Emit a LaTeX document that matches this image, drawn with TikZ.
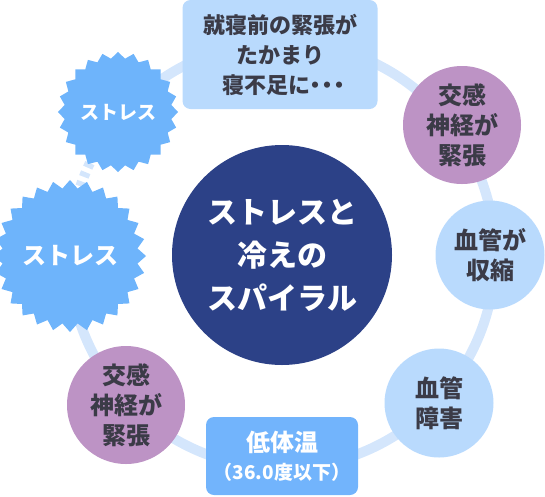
\documentclass[tikz,border=0pt]{standalone}
\usepackage{fontspec}
\newfontfamily\jpfont{Noto Sans CJK JP}
\usetikzlibrary{shapes.geometric}

\definecolor{ringc}{HTML}{D4E6FC}
\definecolor{boxc}{HTML}{B9DAFD}
\definecolor{purp}{HTML}{BD93C5}
\definecolor{teic}{HTML}{72B4FC}
\definecolor{starc}{HTML}{6EB4FB}
\definecolor{navy}{HTML}{2C4187}
\definecolor{txt}{HTML}{3B3B47}

\begin{document}
\begin{tikzpicture}[x=1pt,y=-1pt,
    ring/.style={draw=ringc, line width=10pt},
    step box/.style={fill=boxc, rounded corners=8pt, inner sep=0pt, text=txt, align=center,
        font=\jpfont\bfseries\fontsize{22}{30}\selectfont},
    purple circ/.style={circle, fill=purp, minimum size=118pt, inner sep=0pt, text=txt, align=center,
        font=\jpfont\bfseries\fontsize{24}{30}\selectfont},
    blue circ/.style={circle, fill=boxc, minimum size=109pt, inner sep=0pt, text=txt, align=center,
        font=\jpfont\bfseries\fontsize{24}{30}\selectfont},
    stress/.style={star, star point ratio=1.12, fill=starc, inner sep=0pt, text=white}]
        \useasboundingbox (0,0) rectangle (545,496);

        % Mittelpunkt des Rings
        \coordinate (ctr) at (282,255);

        % Ring
        \draw[ring] (ctr) ++(221:213) arc[start angle=221, end angle=540, radius=213];
        \draw[ring, dash pattern=on 5pt off 5pt] (ctr) ++(180:213) arc[start angle=180, end angle=221, radius=213];

        % Zentrum
        \node[circle, fill=navy, minimum size=220pt, inner sep=0pt, text=white, align=center,
            font=\jpfont\bfseries\fontsize{30}{43}\selectfont] (spiral) at (ctr) {ストレスと\\冷えの\\スパイラル};

        % Stationen
        \node[step box, minimum width=195pt, minimum height=109pt] (sleep) at (280,54.5)
            {就寝前の緊張が\\たかまり\\\kern6pt寝不足に\kern-6pt・\kern-10pt・\kern-10pt・\kern-6pt};
        \node[purple circ] (nerveR) at (462,125) {交感\\神経が\\緊張};
        \node[blue circ] (shrink) at (490,255) {血管が\\収縮};
        \node[blue circ] (damage) at (439,403) {血管\\障害};
        \node[step box, fill=teic, text=white, minimum width=152pt, minimum height=78pt,
            font=\jpfont\bfseries\fontsize{24}{28}\selectfont] (cold) at (282,456)
            {低体温\\{\fontsize{19}{28}\selectfont （36.0度以下）}};
        \node[purple circ] (nerveL) at (126,405) {交感\\神経が\\緊張};

        % Stress
        \node[stress, star points=28, minimum size=140pt, font=\jpfont\bfseries\fontsize{24}{28}\selectfont] (bigstress) at (70,256) {ストレス};
        \node[stress, star points=24, minimum size=102pt, font=\jpfont\bfseries\fontsize{19}{24}\selectfont] (smallstress) at (118,112) {ストレス};

    \end{tikzpicture}
\end{document}
